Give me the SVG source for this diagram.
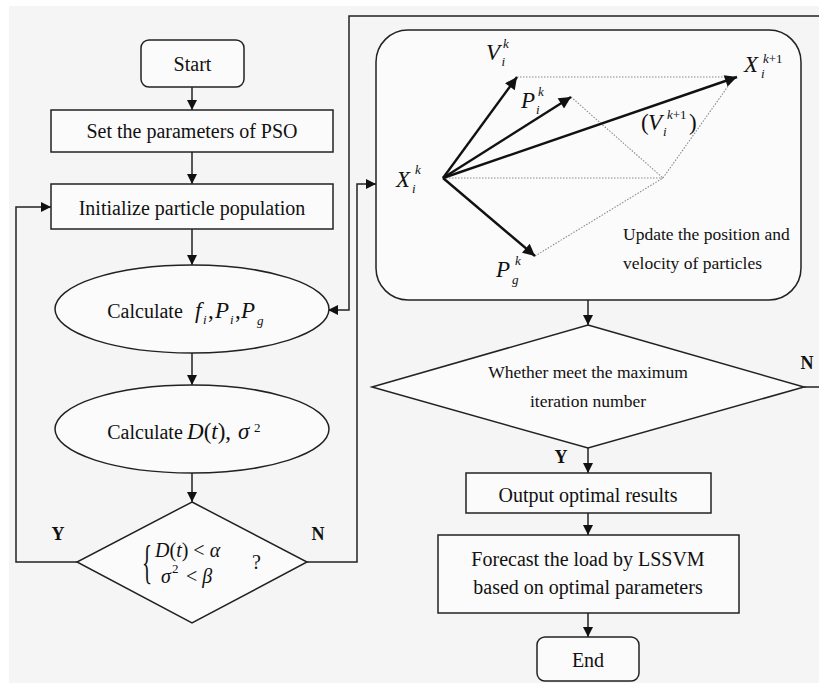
<svg xmlns="http://www.w3.org/2000/svg" width="819" height="683" viewBox="0 0 819 683">
<defs>
<style>
.bg{fill:#f5f5f5}
.n{fill:#fbfbfb;stroke:#222;stroke-width:1.5}
.c{fill:none;stroke:#222;stroke-width:1.5}
.v{fill:none;stroke:#111;stroke-width:2.4}
.d{fill:none;stroke:#8a8a8a;stroke-width:1.1;stroke-dasharray:1.5 1.5}
text{font-family:"Liberation Serif","Times New Roman",serif;fill:#111}
.t{font-size:20px;text-anchor:middle}
.s{font-size:17.5px;text-anchor:middle}
.m{font-size:23px;font-style:italic}
.r{font-size:23px;font-style:normal}
.sb{font-size:13px;font-style:italic}
.up{font-size:13px;font-style:normal}
.yn{font-size:18px;font-weight:bold;text-anchor:middle}
</style>
<marker id="a" viewBox="0 0 10 10" refX="10" refY="5" markerWidth="10" markerHeight="10" markerUnits="userSpaceOnUse" orient="auto">
<path d="M0,0 L10,5 L0,10 z" fill="#111"/>
</marker>
<marker id="b" viewBox="0 0 10 10" refX="10" refY="5" markerWidth="14" markerHeight="12" markerUnits="userSpaceOnUse" orient="auto">
<path d="M0,0 L10,5 L0,10 z" fill="#111"/>
</marker>
</defs>
<rect x="0" y="0" width="819" height="683" fill="#ffffff"/>
<rect class="bg" x="9" y="6" width="810" height="677"/>

<g id="connectors">
<line class="c" x1="192" y1="87" x2="192" y2="110" marker-end="url(#a)"/>
<line class="c" x1="192" y1="152" x2="192" y2="184" marker-end="url(#a)"/>
<line class="c" x1="192" y1="229" x2="192" y2="265" marker-end="url(#a)"/>
<line class="c" x1="192" y1="353" x2="192" y2="385" marker-end="url(#a)"/>
<line class="c" x1="192" y1="473" x2="192" y2="502" marker-end="url(#a)"/>
<polyline class="c" points="77,562 16,562 16,207 51,207" marker-end="url(#a)"/>
<polyline class="c" points="307,562 357,562 357,184 376,184" marker-end="url(#a)"/>
<line class="c" x1="588" y1="300" x2="588" y2="325" marker-end="url(#a)"/>
<line class="c" x1="588" y1="448" x2="588" y2="473" marker-end="url(#a)"/>
<line class="c" x1="588" y1="513" x2="588" y2="535" marker-end="url(#a)"/>
<line class="c" x1="588" y1="613" x2="588" y2="637" marker-end="url(#a)"/>
<polyline class="c" points="804,387 823,387 823,16 349,16 349,310 328,310" marker-end="url(#a)"/>
<text class="yn" x="58" y="540">Y</text>
<text class="yn" x="318" y="540">N</text>
<text class="yn" x="807" y="369">N</text>
<text class="yn" x="561" y="463">Y</text>
</g>

<g id="start">
<rect class="n" x="141" y="40" width="103" height="47" rx="8"/>
<text class="t" x="192.5" y="71">Start</text>
</g>

<g id="set-params">
<rect class="n" x="51" y="110" width="282" height="42"/>
<text class="t" x="192" y="138">Set the parameters of PSO</text>
</g>

<g id="init-pop">
<rect class="n" x="51" y="184" width="282" height="45"/>
<text class="t" x="192" y="215">Initialize particle population</text>
</g>

<g id="calc-f">
<ellipse class="n" cx="192" cy="309" rx="137" ry="44"/>
<text class="t" x="145" y="318">Calculate</text>
<text class="m" x="195" y="318">f<tspan class="sb" x="203" y="324">i</tspan><tspan class="r" x="208" y="318">,</tspan><tspan x="215" y="318">P</tspan><tspan class="sb" x="230" y="324">i</tspan><tspan class="r" x="235" y="318">,</tspan><tspan x="241" y="318">P</tspan><tspan class="sb" x="257" y="325">g</tspan></text>
</g>

<g id="calc-d">
<ellipse class="n" cx="192" cy="429" rx="137" ry="44"/>
<text class="t" x="145" y="439">Calculate</text>
<text class="r" x="187" y="439"><tspan font-style="italic">D</tspan>(<tspan font-style="italic">t</tspan>),<tspan class="m" x="238" y="439">σ</tspan><tspan class="up" x="254" y="432">2</tspan></text>
</g>

<g id="check-conv">
<polygon class="n" points="192,502 307,562 192,623 77,562"/>
<text x="0" y="0" font-size="30" transform="translate(142 578) scale(0.7 1.55)">{</text>
<text x="155" y="557" font-size="20"><tspan font-style="italic">D</tspan>(<tspan font-style="italic">t</tspan>) &lt; <tspan font-style="italic">α</tspan></text>
<text x="161" y="583" font-size="20"><tspan font-style="italic">σ</tspan><tspan class="up" x="172" y="573">2</tspan><tspan x="186" y="583">&lt; </tspan><tspan font-style="italic">β</tspan></text>
<text x="252" y="569" font-size="20">?</text>
</g>

<g id="update">
<rect class="n" x="376" y="30" width="425" height="270" rx="32"/>
<line class="d" x1="517" y1="77" x2="736" y2="77"/>
<line class="d" x1="571" y1="97" x2="663" y2="178"/>
<line class="d" x1="443" y1="178" x2="663" y2="178"/>
<line class="d" x1="535" y1="256" x2="663" y2="178"/>
<line class="d" x1="663" y1="178" x2="731" y2="82"/>
<line class="v" x1="443" y1="178" x2="517" y2="77" marker-end="url(#b)"/>
<line class="v" x1="443" y1="178" x2="571" y2="97" marker-end="url(#b)"/>
<line class="v" x1="443" y1="178" x2="737" y2="77" marker-end="url(#b)"/>
<line class="v" x1="443" y1="178" x2="535" y2="256" marker-end="url(#b)"/>
<text class="m" x="486" y="60">V<tspan class="sb" x="503" y="48">k</tspan><tspan class="sb" x="501.5" y="66">i</tspan></text>
<text class="m" x="744" y="72">X<tspan class="sb" x="763" y="63">k</tspan><tspan class="up">+1</tspan><tspan class="sb" x="761" y="78">i</tspan></text>
<text class="m" x="521" y="108">P<tspan class="sb" x="538" y="96">k</tspan><tspan class="sb" x="536" y="114">i</tspan></text>
<text class="r" x="641" y="130">(<tspan class="m" x="648" y="130">V</tspan><tspan class="sb" x="667" y="119">k</tspan><tspan class="up">+1</tspan><tspan class="sb" x="663" y="136">i</tspan><tspan x="689" y="130">)</tspan></text>
<text class="m" x="396" y="187">X<tspan class="sb" x="415" y="174">k</tspan><tspan class="sb" x="412" y="193">i</tspan></text>
<text class="m" x="496" y="277">P<tspan class="sb" x="515" y="265">k</tspan><tspan class="sb" x="512" y="284">g</tspan></text>
<text x="623" y="240" font-size="17.5">Update the position and</text>
<text x="623" y="269" font-size="17.5">velocity of particles</text>
</g>

<g id="max-iter">
<polygon class="n" points="588,325 804,387 588,448 372,387"/>
<text class="s" x="588" y="378">Whether meet the maximum</text>
<text class="s" x="588" y="407">iteration number</text>
</g>

<g id="output">
<rect class="n" x="466" y="473" width="245" height="40"/>
<text class="t" x="588" y="502">Output optimal results</text>
</g>

<g id="forecast">
<rect class="n" x="438" y="535" width="301" height="78"/>
<text class="t" x="588" y="566">Forecast the load by LSSVM</text>
<text class="t" x="588" y="594">based on optimal parameters</text>
</g>

<g id="end">
<rect class="n" x="537" y="637" width="102" height="44" rx="8"/>
<text class="t" x="588" y="667">End</text>
</g>
</svg>
